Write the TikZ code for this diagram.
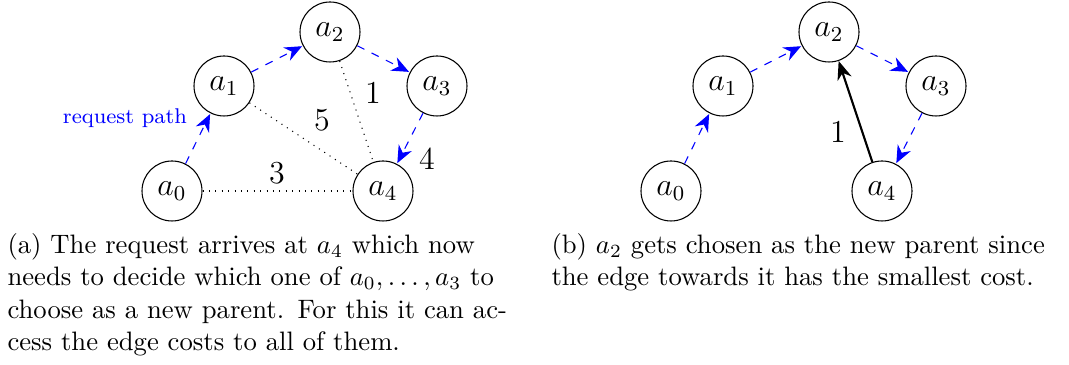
\documentclass[tikz,border=0pt]{standalone}
\usetikzlibrary{arrows.meta}
\newlength{\capw}
\setlength{\capw}{190.5pt}
\begin{document}
\begin{tikzpicture}[x=0.375pt,y=-0.375pt,
  vtx/.style={circle,draw,minimum size=22.5pt,inner sep=0pt,font=\large},
  req/.style={blue,dashed,-{Stealth[length=6.5pt,width=5.5pt]},shorten >=0.3pt},
  cost/.style={dotted},
  chosen/.style={thick,-{Stealth[length=7pt,width=5.5pt]}},
  lab/.style={inner sep=0pt,font=\large},
  captionbox/.style={anchor=north west,inner sep=0pt,text width=\capw,font=\fontsize{10}{12.1}\selectfont}]
\useasboundingbox (0,0) rectangle (1069,365);
% panel a
\node[vtx] (a0) at (172,191) {$a_0$};
\node[vtx] (a1) at (224,86) {$a_1$};
\node[vtx] (a2) at (330,32) {$a_2$};
\node[vtx] (a3) at (437,86) {$a_3$};
\node[vtx] (a4) at (383,191) {$a_4$};
\draw[req] (a0) -- (a1);
\draw[req] (a1) -- (a2);
\draw[req] (a2) -- (a3);
\draw[req] (a3) -- (a4);
\draw[cost] (a1) -- (a4);
\draw[cost] (a2) -- (a4);
\draw[cost] (a0) -- (a4);
\node[inner sep=0pt,blue,font=\footnotesize] (rp) at (125,118) {request path};
\node[lab] (c5) at (322,120) {5};
\node[lab] (c1) at (373,93) {1};
\node[lab] (c3) at (277,173) {3};
\node[lab] (c4) at (427,159) {4};
% panel b
\node[vtx] (b0) at (671,191) {$a_0$};
\node[vtx] (b1) at (723,86) {$a_1$};
\node[vtx] (b2) at (829,32) {$a_2$};
\node[vtx] (b3) at (936,86) {$a_3$};
\node[vtx] (b4) at (882,191) {$a_4$};
\draw[req] (b0) -- (b1);
\draw[req] (b1) -- (b2);
\draw[req] (b2) -- (b3);
\draw[req] (b3) -- (b4);
\draw[chosen] (b4) -- (b2);
\node[lab] (d1) at (838,132) {1};
% captions
\node[captionbox] (capa) at (7,233) {%
\hbox to\capw{(a) The request arrives at $a_4$ which now}
\hbox to\capw{needs to decide which one of $a_0,\ldots,a_3$ to}
\hbox to\capw{choose as a new parent. For this it can ac-}
\hbox{cess the edge costs to all of them.}};
\node[captionbox] (capb) at (551,233) {%
\hbox to\capw{(b) $a_2$ gets chosen as the new parent since}
\hbox{the edge towards it has the smallest cost.}};
\end{tikzpicture}
\end{document}
